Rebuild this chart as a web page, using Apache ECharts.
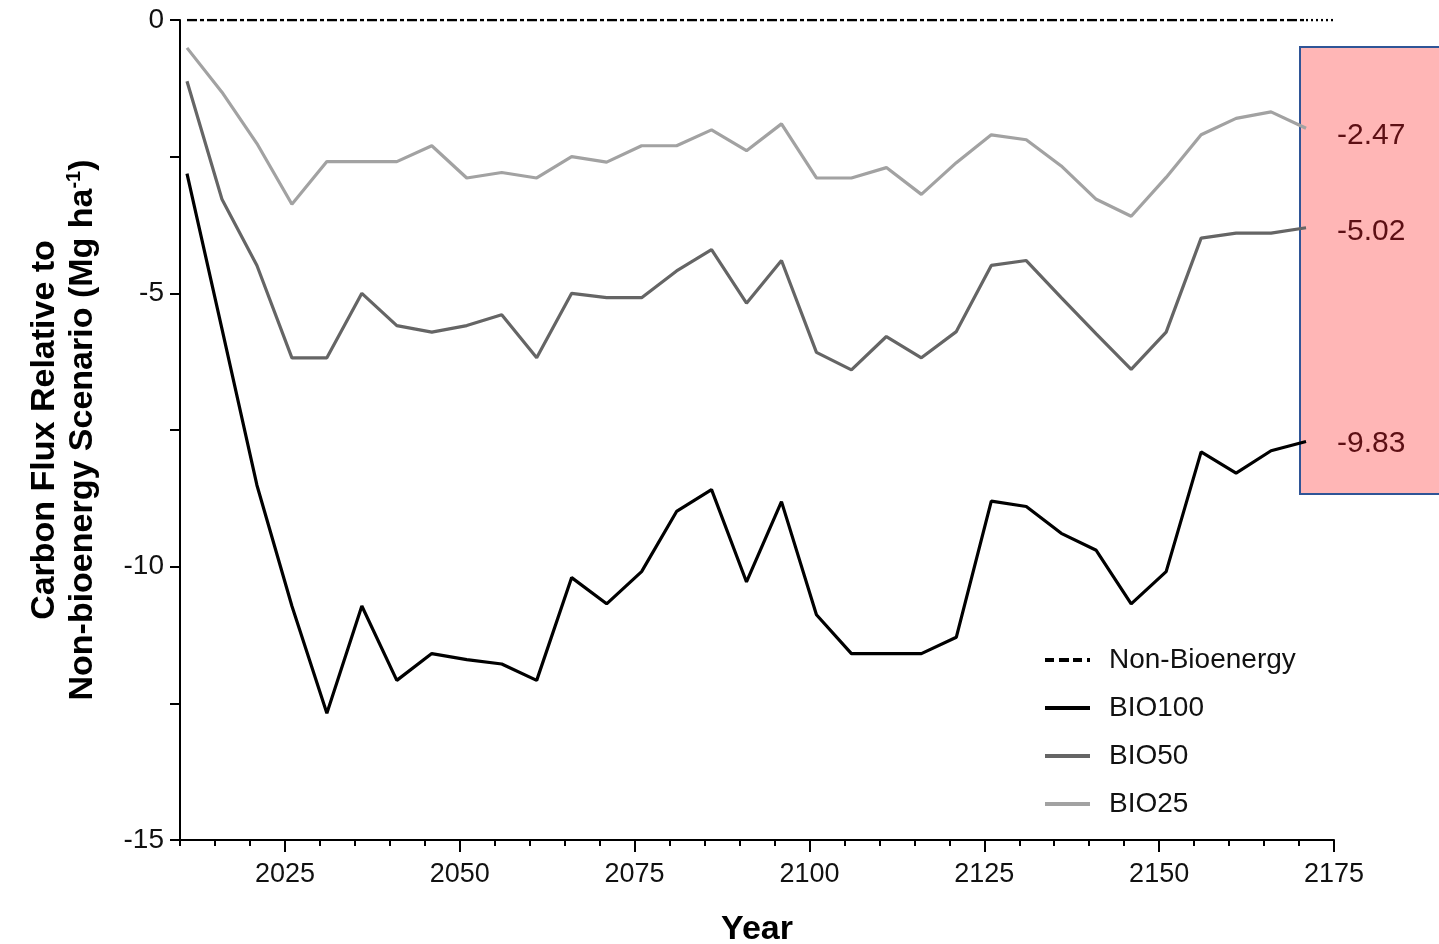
<!DOCTYPE html>
<html>
<head>
<meta charset="utf-8">
<title>Carbon flux relative to non-bioenergy scenario</title>
<script src="https://cdn.jsdelivr.net/npm/echarts@6/dist/echarts.min.js"></script>
<style>
  html, body { margin: 0; padding: 0; background: #ffffff; }
  #chart { width: 1439px; height: 944px; }
</style>
</head>
<body>
<div id="chart"></div>
<script>
// Simulation years (5-year steps)
const years = [2011, 2016, 2021, 2026, 2031, 2036, 2041, 2046, 2051, 2056, 2061,
  2066, 2071, 2076, 2081, 2086, 2091, 2096, 2101, 2106, 2111, 2116, 2121,
  2126, 2131, 2136, 2141, 2146, 2151, 2156, 2161, 2166, 2171];

// Carbon flux relative to the non-bioenergy scenario (Mg ha-1)
const bio100 = [-2.81, -5.65, -8.51, -10.72, -12.68, -10.72, -12.08, -11.59, -11.70, -11.78, -12.08,
  -10.20, -10.68, -10.09, -8.99, -8.59, -10.28, -8.81, -10.88, -11.59, -11.59, -11.59, -11.29,
  -8.80, -8.90, -9.39, -9.70, -10.68, -10.09, -7.90, -8.29, -7.88, -7.71];
const bio50 = [-1.12, -3.28, -4.49, -6.18, -6.18, -5.00, -5.59, -5.71, -5.59, -5.39, -6.18,
  -5.00, -5.08, -5.08, -4.59, -4.20, -5.18, -4.40, -6.08, -6.40, -5.79, -6.18, -5.70,
  -4.49, -4.40, -5.08, -5.74, -6.39, -5.71, -3.99, -3.90, -3.90, -3.80];
const bio25 = [-0.51, -1.32, -2.26, -3.37, -2.59, -2.59, -2.59, -2.30, -2.89, -2.79, -2.89,
  -2.50, -2.60, -2.30, -2.30, -2.01, -2.39, -1.90, -2.89, -2.89, -2.70, -3.19, -2.61,
  -2.10, -2.19, -2.67, -3.28, -3.59, -2.88, -2.10, -1.80, -1.68, -1.98];
const nonBio = years.map(() => 0);

// Mean flux over the period, shown next to each line end
const meanLabels = { BIO100: -9.83, BIO50: -5.02, BIO25: -2.47 };

// Axis ticks
const xMajorTicks = [2025, 2050, 2075, 2100, 2125, 2150, 2175];
const xMin = 2010, xMax = 2175;
const xMinorTicks = [];
for (let t = xMin; t <= xMax; t += 5) xMinorTicks.push(t);

const pair = (vals) => years.map((y, i) => [y, vals[i]]);
const FONT = '"Liberation Sans", Arial, sans-serif';

// Legend swatches: plain strokes, dashed one for the reference scenario
const ICON_SOLID = 'path://M0,0H45V4H0Z';
const ICON_DASHED = 'path://M0,0H9V4H0Z M14,0H24V4H14Z M28,0H37V4H28Z M42,0H45V4H42Z';

const chart = echarts.init(document.getElementById('chart'), null, { renderer: 'canvas' });

function endLabel(name, dy) {
  return {
    show: true,
    distance: 31,
    offset: [0, dy],
    color: '#5c0f14',
    fontFamily: FONT,
    fontSize: 30,
    formatter: () => meanLabels[name].toFixed(2)
  };
}

const option = {
  backgroundColor: '#ffffff',
  animation: false,
  grid: { left: 180, right: 105, top: 20, bottom: 104, containLabel: false, outerBoundsMode: 'none' },
  graphic: {
    elements: [{
      type: 'rect',
      z: -10,
      shape: { x: 1300, y: 47, width: 160, height: 447 },
      style: { fill: '#ffb6b6', stroke: '#2f5597', lineWidth: 2 }
    }]
  },
  legend: {
    left: 1040,
    top: 640,
    orient: 'vertical',
    itemWidth: 45,
    itemHeight: 4,
    itemGap: 18,
    selectedMode: false,
    data: [
      { name: 'Non-Bioenergy', icon: ICON_DASHED },
      { name: 'BIO100', icon: ICON_SOLID },
      { name: 'BIO50', icon: ICON_SOLID },
      { name: 'BIO25', icon: ICON_SOLID }
    ],
    textStyle: { fontFamily: FONT, fontSize: 28, lineHeight: 30, color: '#111', padding: [0, 0, 0, 14] }
  },
  xAxis: [{
    type: 'value',
    min: xMin,
    max: xMax,
    position: 'bottom',
    name: 'Year',
    nameLocation: 'middle',
    nameGap: 73,
    nameTextStyle: { fontFamily: FONT, fontSize: 34, fontWeight: 'bold', color: '#000' },
    axisLine: { show: true, onZero: false, lineStyle: { color: '#000', width: 2 } },
    axisTick: { show: true, length: 6, customValues: xMinorTicks, lineStyle: { color: '#000', width: 2 } },
    axisLabel: { show: false },
    splitLine: { show: false }
  }, {
    type: 'value',
    min: xMin,
    max: xMax,
    position: 'bottom',
    axisLine: { show: false, onZero: false },
    axisTick: { show: true, length: 12, customValues: xMajorTicks, lineStyle: { color: '#000', width: 2 } },
    axisLabel: {
      show: true, customValues: xMajorTicks, margin: 21,
      formatter: (v) => String(v),
      fontFamily: FONT, fontSize: 27, color: '#111'
    },
    splitLine: { show: false }
  }],
  yAxis: {
    type: 'value',
    min: -15,
    max: 0,
    interval: 5,
    name: '{t|Carbon Flux Relative to}\n{t|Non-bioenergy Scenario (Mg ha}{sup|-1}{t|)}',
    nameLocation: 'middle',
    nameGap: 78,
    nameTextStyle: {
      fontFamily: FONT, fontSize: 34, fontWeight: 'bold', color: '#000', lineHeight: 38,
      rich: {
        t: { fontFamily: FONT, fontSize: 34, fontWeight: 'bold', color: '#000', lineHeight: 38 },
        sup: { fontFamily: FONT, fontSize: 20, fontWeight: 'bold', color: '#000', lineHeight: 20, verticalAlign: 'top' }
      }
    },
    axisLine: { show: true, onZero: false, lineStyle: { color: '#000', width: 2 } },
    axisTick: { show: true, length: 10, lineStyle: { color: '#000', width: 2 } },
    minorTick: { show: true, splitNumber: 2, length: 10, lineStyle: { color: '#000', width: 2 } },
    axisLabel: { margin: 16, fontFamily: FONT, fontSize: 28, color: '#111' },
    splitLine: { show: false }
  },
  series: [{
    name: 'Non-Bioenergy',
    type: 'line',
    xAxisIndex: 0,
    data: pair(nonBio),
    symbol: 'none',
    z: 5,
    lineStyle: { color: '#000', width: 2.5, type: [10, 3, 4, 3] },
    itemStyle: { color: '#000' }
  }, {
    name: 'Non-Bioenergy tail',
    type: 'line',
    xAxisIndex: 0,
    data: [[years[years.length - 1], 0], [xMax, 0]],
    symbol: 'none',
    z: 5,
    lineStyle: { color: '#000', width: 2.5, type: [2, 3] }
  }, {
    name: 'BIO100',
    type: 'line',
    xAxisIndex: 0,
    data: pair(bio100),
    symbol: 'none',
    z: 5,
    lineStyle: { color: '#000000', width: 3.2 },
    itemStyle: { color: '#000000' },
    endLabel: endLabel('BIO100', 2)
  }, {
    name: 'BIO50',
    type: 'line',
    xAxisIndex: 0,
    data: pair(bio50),
    symbol: 'none',
    z: 5,
    lineStyle: { color: '#656565', width: 3.2 },
    itemStyle: { color: '#656565' },
    endLabel: endLabel('BIO50', 4)
  }, {
    name: 'BIO25',
    type: 'line',
    xAxisIndex: 0,
    data: pair(bio25),
    symbol: 'none',
    z: 5,
    lineStyle: { color: '#a2a2a2', width: 3.2 },
    itemStyle: { color: '#a2a2a2' },
    endLabel: endLabel('BIO25', 7)
  }]
};

chart.setOption(option);
</script>
</body>
</html>
